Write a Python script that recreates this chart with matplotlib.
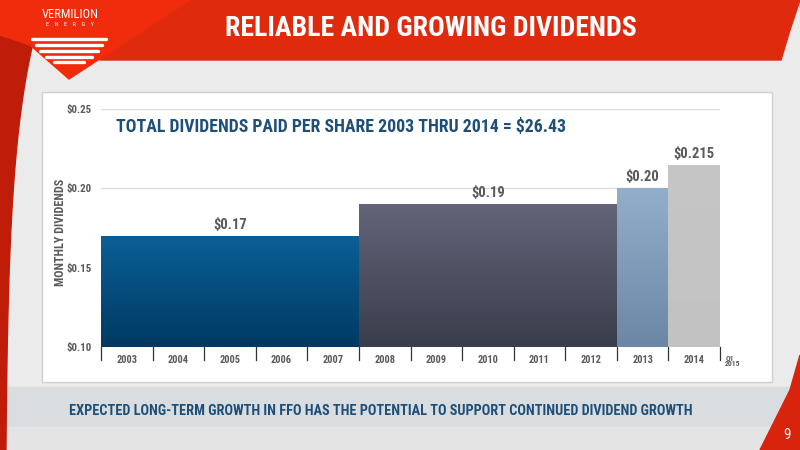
import numpy as np
import matplotlib
matplotlib.use('Agg')
import matplotlib.pyplot as plt
from matplotlib import font_manager
from matplotlib.patches import Polygon, Rectangle
from matplotlib.colors import LinearSegmentedColormap

# ---------------------------------------------------------------------------
# Data
# ---------------------------------------------------------------------------
years = ['2003', '2004', '2005', '2006', '2007', '2008', '2009',
         '2010', '2011', '2012', '2013', '2014']
period_start = [0, 5, 10, 11]          # index into years
period_len = [5, 5, 1, 1]
period_value = [0.17, 0.19, 0.20, 0.215]
period_label = ['$0.17', '$0.19', '$0.20', '$0.215']
yticks = [0.10, 0.15, 0.20, 0.25]
ytick_labels = ['$0.10', '$0.15', '$0.20', '$0.25']

# gradient colours per bar (top, bottom)
grad = [('#0b5f96', '#003a63'), ('#626478', '#3a3e4c'),
        ('#93aeca', '#6c87a6'), ('#c6c6c6', '#c2c2c2')]

# pick a narrow face if one is installed
installed = {f.name for f in font_manager.fontManager.ttflist}
narrow = [n for n in ('Liberation Sans Narrow', 'DejaVu Sans Condensed',
                      'Roboto Condensed', 'Open Sans Condensed')
          if n in installed]
FONT = narrow[:1] + ['DejaVu Sans']
k = 1.0 if narrow else 0.85            # shrink if only the wide face exists

RED = '#e02a0e'
BLUE_TXT = '#1d4f78'
GREY_TXT = '#5a5a5a'

fig = plt.figure(figsize=(8, 4.5), dpi=100, facecolor='#ebebeb')

# ---------------------------------------------------------------------------
# Slide background (pixel coordinates)
# ---------------------------------------------------------------------------
bg = fig.add_axes([0, 0, 1, 1])
bg.set_xlim(0, 800)
bg.set_ylim(450, 0)
bg.axis('off')

bg.add_patch(Rectangle((0, 387), 800, 40, color='#dadde0', zorder=1))
bg.add_patch(Rectangle((0, 427), 800, 23, color='#e4e4e4', zorder=1))

bg.add_patch(Rectangle((42, 92), 730, 290, facecolor='white',
                       edgecolor='#d0d0d0', lw=1, zorder=2))

bg.add_patch(Polygon([(100, 0), (800, 0), (790, 30), (781, 60), (100, 60)],
                     closed=True, color=RED, zorder=3))
ys = np.linspace(0, 450, 40)
xs = 5 + 40 * np.exp(-ys / 120.0)
left = [(0, 0)] + list(zip(xs, ys)) + [(0, 450)]
bg.add_patch(Polygon(left, closed=True, color='#c01c0a', zorder=3))
bg.add_patch(Polygon([(0, 0), (190, 0), (69, 79), (30, 45), (0, 35)],
                     closed=True, color='#f02c0c', zorder=4))
bg.add_patch(Polygon([(800, 355), (790, 390), (775, 420), (760, 450), (800, 450)],
                     closed=True, color='#d8230d', zorder=3))

bg.text(70, 14, 'VERMILION', color='white', fontsize=9 * k, ha='center',
        va='center', family=FONT, zorder=5)
bg.text(70, 24, 'E    N    E    R    G    Y', color='white', fontsize=4.5,
        ha='center', va='center', family=FONT, zorder=5)
for w, y in [(74, 39), (66, 45), (58, 51), (46, 57), (30, 62)]:
    bg.plot([69 - w / 2, 69 + w / 2], [y, y], color='white', lw=2.4,
            solid_capstyle='round', zorder=5)

bg.text(431, 29, 'RELIABLE AND GROWING DIVIDENDS', color='white',
        fontsize=20 * k, fontweight='bold', ha='center', va='center',
        family=FONT, zorder=5)
bg.text(381, 411, 'EXPECTED LONG-TERM GROWTH IN FFO HAS THE POTENTIAL TO '
        'SUPPORT CONTINUED DIVIDEND GROWTH', color=BLUE_TXT,
        fontsize=10.3 * k, fontweight='bold', ha='center', va='center',
        family=FONT, zorder=5)
bg.text(787, 435, '9', color='white', fontsize=11, ha='center', va='center',
        family=FONT, zorder=5)

# ---------------------------------------------------------------------------
# Chart
# ---------------------------------------------------------------------------
ax = fig.add_axes([101 / 800, 1 - 347 / 450, 619 / 800, 238 / 450])
ax.set_facecolor('none')

ax.set_yticks(yticks)
ax.set_yticklabels(ytick_labels, color=GREY_TXT, fontsize=7.8 * k,
                   fontweight='bold', family=FONT)
ax.tick_params(axis='y', length=0, pad=7)
ax.grid(axis='y', color='#dcdcdc', lw=1)
ax.set_axisbelow(True)
for s in ('top', 'right', 'left', 'bottom'):
    ax.spines[s].set_visible(False)

bars = ax.bar(period_start, [v - 0.10 for v in period_value], width=period_len,
              bottom=0.10, align='edge', color='none', lw=0, zorder=2)
for b, (top, bot), v, lab in zip(bars, grad, period_value, period_label):
    cmap = LinearSegmentedColormap.from_list('g', [bot, top])
    x0, w = b.get_x(), b.get_width()
    im = ax.imshow(np.linspace(0, 1, 64).reshape(-1, 1), cmap=cmap,
                   aspect='auto', origin='lower',
                   extent=[x0, x0 + w, 0.10, v], zorder=2)
    im.set_clip_path(b)
    ax.text(x0 + w / 2, v + 0.0025, lab, ha='center', va='bottom',
            color=GREY_TXT, fontsize=10.5 * k, fontweight='bold', family=FONT)
ax.set_xlim(0, len(years))
ax.set_ylim(0.10, 0.25)

ax.set_xticks(np.arange(len(years)) + 0.5)
ax.set_xticklabels(years, color=GREY_TXT, fontsize=7.5 * k, fontweight='bold',
                   family=FONT)
ax.tick_params(axis='x', length=0, pad=6)
for i in range(len(years) + 1):
    ax.plot([i, i], [0.10, 0.092], color='#333333', lw=0.9, clip_on=False)
ax.text(len(years) + 0.1, 0.0915, 'Q1\n2015', color=GREY_TXT, fontsize=5.5,
        fontweight='bold', family=FONT, ha='left', va='center',
        linespacing=0.9)

ax.set_ylabel('MONTHLY DIVIDENDS', color=GREY_TXT, fontsize=8.7 * k,
              fontweight='bold', family=FONT)
ax.yaxis.set_label_coords(-0.055, 0.48)

ax.text(0.025, 0.925, 'TOTAL DIVIDENDS PAID PER SHARE 2003 THRU 2014 = $26.43',
        transform=ax.transAxes, color=BLUE_TXT, fontsize=12.8 * k,
        fontweight='bold', family=FONT, ha='left', va='center')

fig.savefig('out.png', dpi=100, facecolor=fig.get_facecolor())
